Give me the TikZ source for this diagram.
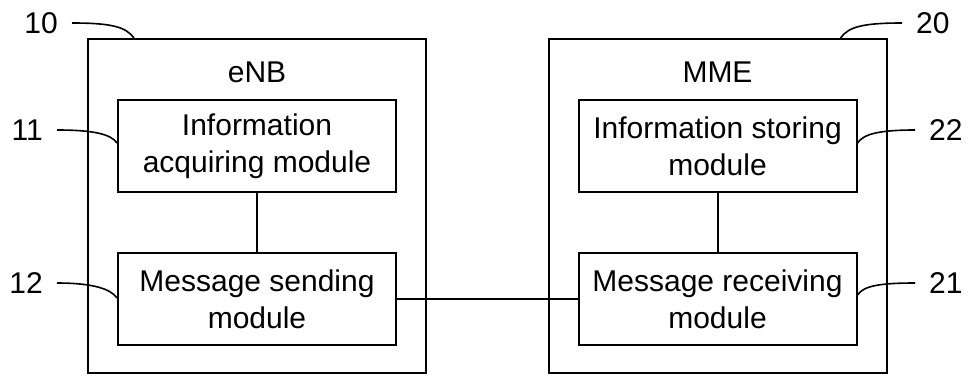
\documentclass[tikz,border=0pt]{standalone}
\usepackage{fontspec}
\setmainfont{Liberation Sans}
\usetikzlibrary{calc}
\begin{document}
\begin{tikzpicture}[x=1pt,y=-1pt,
  every node/.style={font=\fontsize{30}{37}\selectfont},
  outerbox/.style={draw,line width=2pt,minimum width=338pt,minimum height=334pt,inner sep=0pt},
  modbox/.style={draw,line width=2pt,minimum width=278pt,minimum height=92pt,inner sep=0pt,align=center},
  refnum/.style={inner xsep=14pt,inner ysep=0pt},
  leader/.style={line width=1.6pt},
  link/.style={line width=2pt}]
\useasboundingbox (0,0) rectangle (968,375);
% outer boxes
\node[outerbox] (enb) at (257,206) {};
\node[outerbox] (mme) at (717.5,206) {};
\node (enbt) at (257,72) {eNB};
\node (mmet) at (717.5,72) {MME};
% modules
\node[modbox] (iam) at (257,146) {Information\\acquiring module};
\node[modbox] (msm) at (257,299) {Message sending\\module};
\node[modbox] (ism) at (717.5,146) {Information storing\\module};
\node[modbox] (mrm) at (717.5,299) {Message receiving\\module};
% connectors
\draw[link] (iam.south) -- (msm.north);
\draw[link] (ism.south) -- (mrm.north);
\draw[link] (msm.east) -- (mrm.west);
% reference numerals
\node[refnum,anchor=east] (n10) at (72,23) {10};
\node[refnum,anchor=east] (n11) at (57,130) {11};
\node[refnum,anchor=east] (n12) at (57,283) {12};
\node[refnum,anchor=west] (n20) at (902,23) {20};
\node[refnum,anchor=west] (n22) at (915,130) {22};
\node[refnum,anchor=west] (n21) at (915,283) {21};
\coordinate (c10) at ($(enb.north west)+(47,0)$);
\coordinate (c20) at ($(mme.north east)+(-47,0)$);
\coordinate (c11) at ($(iam.west)+(0,-3)$);
\coordinate (c12) at ($(msm.west)+(0,-1)$);
\coordinate (c22) at ($(ism.east)+(0,-3)$);
\coordinate (c21) at ($(mrm.east)+(0,-4)$);
\draw[leader] (n10.east) .. controls ($(n10.east)+(40,0)$) and ($(c10)+(-8,-11)$) .. (c10);
\draw[leader] (n11.east) .. controls ($(n11.east)+(36,0)$) and ($(c11)+(-6,-9)$) .. (c11);
\draw[leader] (n12.east) .. controls ($(n12.east)+(36,0)$) and ($(c12)+(-6,-9)$) .. (c12);
\draw[leader] (n20.west) .. controls ($(n20.west)+(-40,0)$) and ($(c20)+(8,-11)$) .. (c20);
\draw[leader] (n22.west) .. controls ($(n22.west)+(-36,0)$) and ($(c22)+(6,-9)$) .. (c22);
\draw[leader] (n21.west) .. controls ($(n21.west)+(-36,0)$) and ($(c21)+(6,-9)$) .. (c21);
\end{tikzpicture}
\end{document}
